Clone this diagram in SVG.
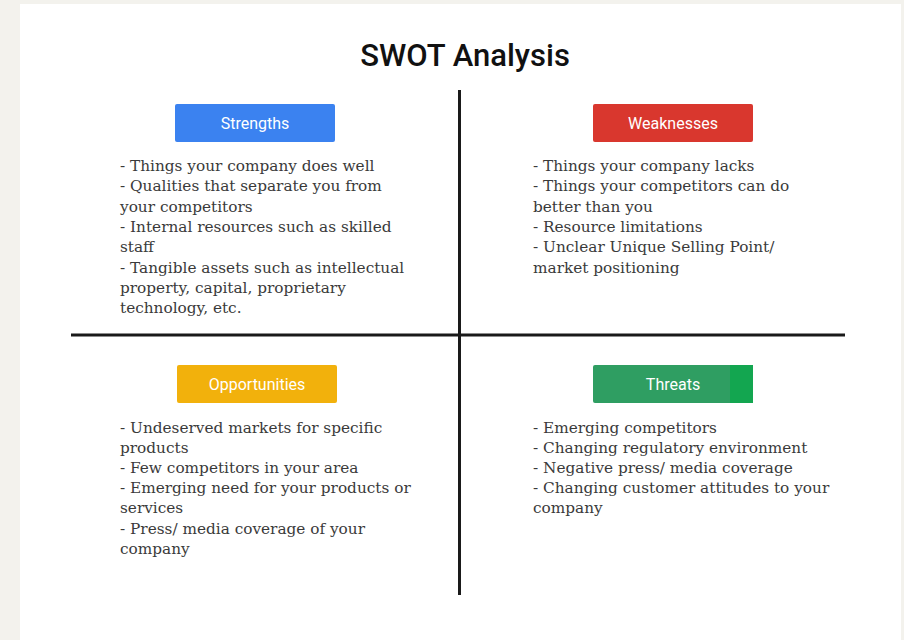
<svg xmlns="http://www.w3.org/2000/svg" width="904" height="640" viewBox="0 0 904 640">
<style>
.title{font-family:Roboto,"Liberation Sans",sans-serif;font-size:31px;font-weight:500;fill:#111;}
.lbl{font-family:Roboto,"Liberation Sans",sans-serif;font-size:16px;fill:#fff;text-anchor:middle;}
.body{font-family:"DejaVu Serif","Liberation Serif",serif;font-size:15.3px;fill:#3a3a3a;}
.axis{stroke:#1a1a1a;stroke-width:3;}
</style>
<rect x="0" y="0" width="904" height="640" fill="#f3f2ed"/>
<rect x="20" y="4" width="881" height="636" fill="#ffffff"/>
<text class="title" x="465" y="66" text-anchor="middle">SWOT Analysis</text>
<g id="connectors">
<line class="axis" x1="459.5" y1="90" x2="459.5" y2="595"/>
<line class="axis" x1="71" y1="335" x2="845" y2="335"/>
</g>
<g id="strengths">
<rect x="175" y="104" width="160" height="38" rx="2" fill="#3b82f0"/>
<text class="lbl" x="255" y="129">Strengths</text>
<text class="body" x="120" y="171">
<tspan x="120">- Things your company does well</tspan>
<tspan x="120" dy="20.3">- Qualities that separate you from</tspan>
<tspan x="120" dy="20.3">your competitors</tspan>
<tspan x="120" dy="20.3">- Internal resources such as skilled</tspan>
<tspan x="120" dy="20.3">staff</tspan>
<tspan x="120" dy="20.3">- Tangible assets such as intellectual</tspan>
<tspan x="120" dy="20.3">property, capital, proprietary</tspan>
<tspan x="120" dy="20.3">technology, etc.</tspan>
</text>
</g>
<g id="weaknesses">
<rect x="593" y="104" width="160" height="38" rx="2" fill="#d9372e"/>
<text class="lbl" x="673" y="129">Weaknesses</text>
<text class="body" x="533" y="171">
<tspan x="533">- Things your company lacks</tspan>
<tspan x="533" dy="20.3">- Things your competitors can do</tspan>
<tspan x="533" dy="20.3">better than you</tspan>
<tspan x="533" dy="20.3">- Resource limitations</tspan>
<tspan x="533" dy="20.3">- Unclear Unique Selling Point/</tspan>
<tspan x="533" dy="20.3">market positioning</tspan>
</text>
</g>
<g id="opportunities">
<rect x="177" y="365" width="160" height="38" rx="2" fill="#f2b10c"/>
<text class="lbl" x="257" y="390">Opportunities</text>
<text class="body" x="120" y="433">
<tspan x="120">- Undeserved markets for specific</tspan>
<tspan x="120" dy="20.1">products</tspan>
<tspan x="120" dy="20.1">- Few competitors in your area</tspan>
<tspan x="120" dy="20.1">- Emerging need for your products or</tspan>
<tspan x="120" dy="20.1">services</tspan>
<tspan x="120" dy="20.1">- Press/ media coverage of your</tspan>
<tspan x="120" dy="20.1">company</tspan>
</text>
</g>
<g id="threats">
<rect x="593" y="365" width="160" height="38" rx="2" fill="#2f9e62"/>
<rect x="730" y="365" width="23" height="38" fill="#13a650"/>
<text class="lbl" x="673" y="390">Threats</text>
<text class="body" x="533" y="433">
<tspan x="533">- Emerging competitors</tspan>
<tspan x="533" dy="20.1">- Changing regulatory environment</tspan>
<tspan x="533" dy="20.1">- Negative press/ media coverage</tspan>
<tspan x="533" dy="20.1">- Changing customer attitudes to your</tspan>
<tspan x="533" dy="20.1">company</tspan>
</text>
</g>
</svg>
